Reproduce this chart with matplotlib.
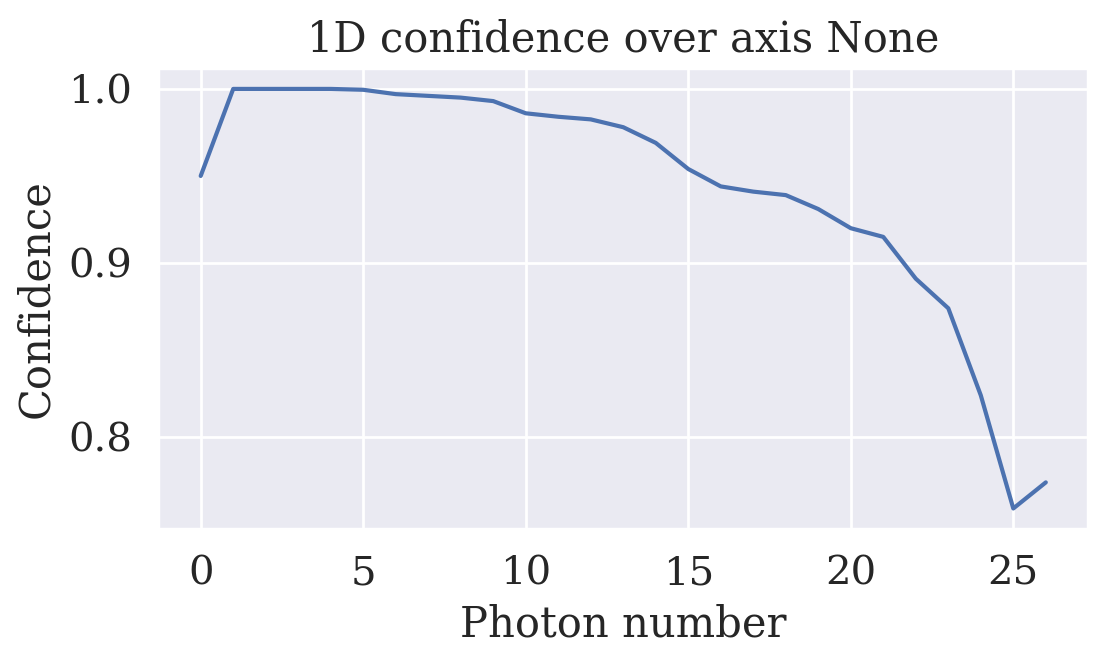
import matplotlib
matplotlib.use("Agg")
import matplotlib.pyplot as plt
import seaborn as sns

sns.set_theme(style="darkgrid")
plt.rcParams['font.family'] = ['DejaVu Serif']

photon = list(range(27))
confidence = [0.950, 1.000, 1.000, 1.000, 1.000, 0.9995, 0.997, 0.996, 0.995, 0.993,
              0.986, 0.984, 0.9825, 0.978, 0.969, 0.954, 0.944, 0.941, 0.939, 0.931,
              0.920, 0.915, 0.891, 0.874, 0.824, 0.759, 0.774]

fig, ax = plt.subplots(figsize=(5.54, 3.33), dpi=200)
ax.plot(photon, confidence, color='#4c72b0', lw=1.5)
ax.set_title("1D confidence over axis None", fontsize=15)
ax.set_xlabel("Photon number", fontsize=15)
ax.set_ylabel("Confidence", fontsize=15)
ax.set_xticks([0, 5, 10, 15, 20, 25])
ax.set_yticks([0.8, 0.9, 1.0])
ax.tick_params(labelsize=14.5)
fig.subplots_adjust(left=0.143, right=0.982, top=0.898, bottom=0.205)
fig.savefig("out.png")
